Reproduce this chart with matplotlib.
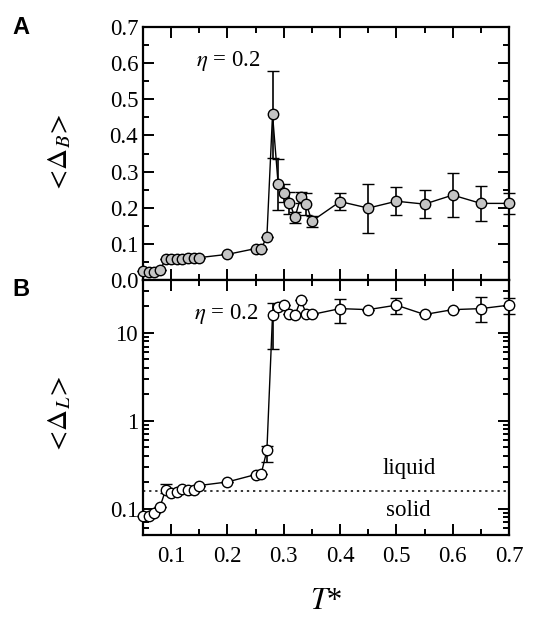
import numpy as np
import matplotlib
matplotlib.use("Agg")
import matplotlib.pyplot as plt
from matplotlib.ticker import MultipleLocator, LogLocator, NullFormatter, FixedLocator

plt.rcParams['font.family'] = ['Liberation Serif', 'DejaVu Serif']
plt.rcParams['mathtext.fontset'] = 'stix'

# panel A : <Delta_B> vs T*
tB = [0.05, 0.06, 0.07, 0.08, 0.09, 0.10, 0.11, 0.12, 0.13, 0.14, 0.15,
      0.20, 0.25, 0.26, 0.27, 0.28, 0.29, 0.30, 0.31, 0.32, 0.33, 0.34, 0.35,
      0.40, 0.45, 0.50, 0.55, 0.60, 0.65, 0.70]
dB = [0.026, 0.023, 0.023, 0.027, 0.057, 0.058, 0.058, 0.059, 0.060, 0.061, 0.062,
      0.071, 0.087, 0.087, 0.120, 0.458, 0.265, 0.240, 0.214, 0.174, 0.229, 0.210, 0.163,
      0.217, 0.199, 0.218, 0.210, 0.235, 0.212, 0.212]
eB = [0, 0, 0, 0, 0, 0, 0, 0, 0, 0, 0,
      0, 0, 0, 0, 0.12, 0.07, 0.025, 0.03, 0.015, 0.015, 0.03, 0.015,
      0.024, 0.068, 0.038, 0.038, 0.06, 0.048, 0.03]

# panel B : <Delta_L> vs T*
tL = tB
dL = [0.082, 0.082, 0.088, 0.104, 0.162, 0.151, 0.155, 0.168, 0.164, 0.164, 0.183,
      0.201, 0.244, 0.250, 0.46, 15.9, 19.8, 20.7, 16.6, 16.0, 23.6, 16.6, 16.2,
      18.9, 18.4, 20.7, 16.2, 18.4, 18.9, 20.7]
eL_lo = [0, 0, 0, 0, 0.01, 0, 0, 0, 0, 0, 0,
         0, 0, 0, 0.12, 9.3, 0, 0, 0, 0, 0, 0, 0,
         6.1, 0, 4.1, 0, 0, 5.5, 4.5]
eL_hi = [0, 0, 0, 0, 0.026, 0, 0, 0, 0, 0, 0,
         0, 0, 0, 0.06, 6.0, 0, 0, 0, 0, 0, 0, 0,
         5.7, 0, 4.0, 0, 0, 6.4, 4.5]
boundary = 0.157

fig = plt.figure(figsize=(5.43, 6.18), dpi=100)
axA = fig.add_axes([0.2634, 0.5469, 0.674, 0.4094])
axB = fig.add_axes([0.2634, 0.1343, 0.674, 0.4126], sharex=axA)

mk = dict(marker='o', ms=7.5, mec='black', mew=1.0, color='black', lw=1.0,
          capsize=4, elinewidth=1.2, capthick=1.2)
ebA = axA.errorbar(tB, dB, yerr=eB, mfc='#c4c4c4', **mk)
ebB = axB.errorbar(tL, dL, yerr=[eL_lo, eL_hi], mfc='white', **mk)
for eb in (ebA, ebB):
    for art in eb.get_children():
        art.set_clip_on(False)
    eb[0].set_zorder(5)
axB.set_yscale('log')
axB.axhline(boundary, color='black', ls=(0, (1.5, 2.5)), lw=1.1)

axA.set_xlim(0.05, 0.7)
axA.set_ylim(0.0, 0.7)
axB.set_ylim(0.05, 40)

for ax in (axA, axB):
    for s in ax.spines.values():
        s.set_linewidth(1.6)
    ax.tick_params(which='both', direction='in', top=True, right=True,
                   labelsize=16.5, width=1.4)
    ax.tick_params(which='major', length=8)
    ax.tick_params(which='minor', length=4.5)
    ax.xaxis.set_major_locator(MultipleLocator(0.1))
    ax.xaxis.set_minor_locator(MultipleLocator(0.05))

axA.yaxis.set_major_locator(MultipleLocator(0.1))
axA.yaxis.set_minor_locator(MultipleLocator(0.05))
axA.yaxis.set_major_formatter(matplotlib.ticker.FormatStrFormatter('%.1f'))
axA.tick_params(axis='x', labelbottom=False)

axB.yaxis.set_major_locator(FixedLocator([0.1, 1, 10]))
axB.yaxis.set_major_formatter(matplotlib.ticker.FuncFormatter(lambda v, p: '%g' % v))
axB.yaxis.set_minor_locator(LogLocator(base=10, subs=np.arange(2, 10)))
axB.yaxis.set_minor_formatter(NullFormatter())
axB.tick_params(axis='x', pad=8)

axA.set_ylabel(r'$<\!\Delta_B\!>$', fontsize=21)
axB.set_ylabel(r'$<\!\Delta_L\!>$', fontsize=21)
axA.yaxis.set_label_coords(-0.19, 0.5)
axB.yaxis.set_label_coords(-0.19, 0.47)
axB.set_xlabel(r'$T$*', fontsize=22, labelpad=14)

axA.text(0.202, 0.605, r'$\eta$ = 0.2', fontsize=16.5, ha='center', va='center')
axB.text(0.197, 16.6, r'$\eta$ = 0.2', fontsize=16.5, ha='center', va='center')
axB.text(0.522, 0.285, 'liquid', fontsize=16.5, ha='center', va='center')
axB.text(0.522, 0.096, 'solid', fontsize=16.5, ha='center', va='center')

fig.text(0.022, 0.955, 'A', fontsize=17, fontweight='bold', family='Liberation Sans',
         va='center')
fig.text(0.022, 0.532, 'B', fontsize=17, fontweight='bold', family='Liberation Sans',
         va='center')

fig.savefig('out.png', dpi=100)
